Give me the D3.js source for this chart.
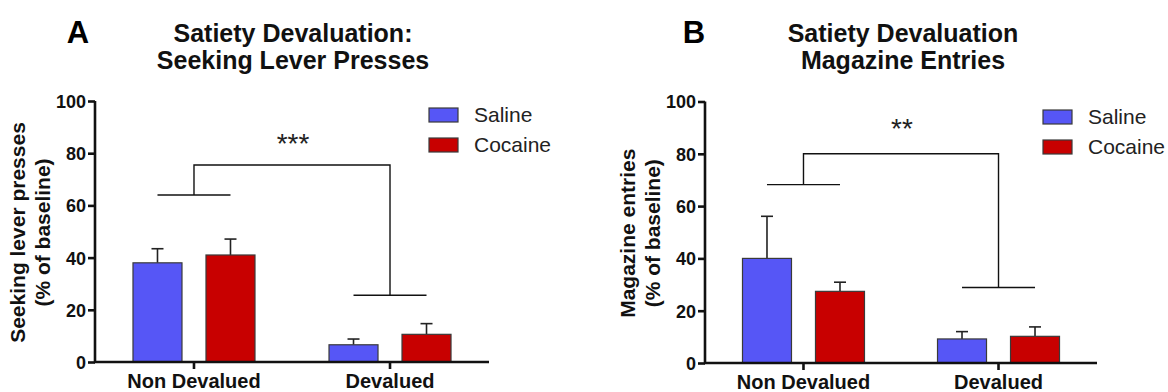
<!DOCTYPE html>
<html>
<head>
<meta charset="utf-8">
<script src="https://cdn.jsdelivr.net/npm/d3@7"></script>
<style>
  html, body { margin: 0; padding: 0; background: #fff; }
  svg { display: block; }
  text { font-family: "Liberation Sans", Arial, Helvetica, sans-serif; }
</style>
</head>
<body>
<svg id="fig" width="1168" height="392"></svg>
<script>
// Categories and groups
const groups = ["Non Devalued", "Devalued"];
const treatments = ["Saline", "Cocaine"];
const yTicks = [0, 20, 40, 60, 80, 100];

// Panel A: seeking lever presses (% of baseline), mean and SEM per group
const seekingSaline = [38.0, 6.6];
const seekingSalineSem = [5.4, 2.2];
const seekingCocaine = [41.0, 10.6];
const seekingCocaineSem = [6.1, 4.1];
// Significance bracket levels: [Non Devalued, Devalued, top]
const seekingBracket = [64.0, 25.6, 75.5];

// Panel B: magazine entries (% of baseline), mean and SEM per group
const magazineSaline = [40.0, 9.2];
const magazineSalineSem = [16.1, 2.8];
const magazineCocaine = [27.4, 10.2];
const magazineCocaineSem = [3.5, 3.6];
const magazineBracket = [68.2, 28.9, 80.0];

const colors = { Saline: "#5656f6", Cocaine: "#c80000" };

const panels = [
  {
    letter: "A", letterX: 78,
    title: ["Satiety Devaluation:", "Seeking Lever Presses"],
    yTitle: ["Seeking lever presses", "(% of baseline)"],
    left: 95, right: 489, y0: 362, y100: 101,
    saline: seekingSaline, salineSem: seekingSalineSem,
    cocaine: seekingCocaine, cocaineSem: seekingCocaineSem,
    bracket: seekingBracket, stars: "***", starGap: 12,
    legendX: 429, legendY: 108
  },
  {
    letter: "B", letterX: 694,
    title: ["Satiety Devaluation", "Magazine Entries"],
    yTitle: ["Magazine entries", "(% of baseline)"],
    left: 705, right: 1097, y0: 363, y100: 101.5,
    saline: magazineSaline, salineSem: magazineSalineSem,
    cocaine: magazineCocaine, cocaineSem: magazineCocaineSem,
    bracket: magazineBracket, stars: "**", starGap: 16,
    legendX: 1043, legendY: 110
  }
];

const svg = d3.select("#fig");

panels.forEach(p => {
  const g = svg.append("g");

  const x = d3.scaleBand().domain(groups).range([p.left, p.right])
    .paddingInner(0).paddingOuter(0.005);
  const half = x.bandwidth() / 2;
  const xSub = d3.scaleBand().domain(treatments)
    .range([half - 61, half + 61]).paddingInner(24 / 73).paddingOuter(0);
  const y = d3.scaleLinear().domain([0, 100]).range([p.y0, p.y100]);

  const rows = [];
  groups.forEach((grp, i) => {
    rows.push({ group: grp, t: "Saline", v: p.saline[i], e: p.salineSem[i] });
    rows.push({ group: grp, t: "Cocaine", v: p.cocaine[i], e: p.cocaineSem[i] });
  });
  const cx = d => x(d.group) + xSub(d.t) + xSub.bandwidth() / 2;

  // error bars (upper only)
  g.selectAll(".err").data(rows).join("g").attr("class", "err")
    .each(function (d) {
      const s = d3.select(this);
      s.append("line").attr("x1", cx(d)).attr("x2", cx(d))
        .attr("y1", y(d.v)).attr("y2", y(d.v + d.e))
        .attr("stroke", "#222").attr("stroke-width", 1.6);
      s.append("line").attr("x1", cx(d) - 6).attr("x2", cx(d) + 6)
        .attr("y1", y(d.v + d.e)).attr("y2", y(d.v + d.e))
        .attr("stroke", "#222").attr("stroke-width", 1.6);
    });

  // bars
  g.selectAll(".bar").data(rows).join("rect").attr("class", "bar")
    .attr("x", d => x(d.group) + xSub(d.t))
    .attr("width", xSub.bandwidth())
    .attr("y", d => y(d.v))
    .attr("height", d => y(0) - y(d.v))
    .attr("fill", d => colors[d.t])
    .attr("stroke", "#3a3a3a").attr("stroke-width", 1.2);

  // significance bracket
  const gc = grp => x(grp) + half;
  const sx = (grp, t) => x(grp) + xSub(t) + xSub.bandwidth() / 2;
  const br = g.append("g").attr("fill", "none").attr("stroke", "#111").attr("stroke-width", 1.4);
  groups.forEach((grp, i) => {
    br.append("line").attr("x1", sx(grp, "Saline")).attr("x2", sx(grp, "Cocaine"))
      .attr("y1", y(p.bracket[i])).attr("y2", y(p.bracket[i]));
  });
  br.append("path").attr("d", d3.line()([
    [gc(groups[0]), y(p.bracket[0])],
    [gc(groups[0]), y(p.bracket[2])],
    [gc(groups[1]), y(p.bracket[2])],
    [gc(groups[1]), y(p.bracket[1])]
  ]));
  g.append("text")
    .attr("x", (gc(groups[0]) + gc(groups[1])) / 2 + 1)
    .attr("y", y(p.bracket[2]) - p.starGap)
    .attr("text-anchor", "middle")
    .attr("font-size", 28).attr("fill", "#222")
    .text(p.stars);

  // axes
  const yAxis = g.append("g").attr("transform", `translate(${p.left},0)`)
    .call(d3.axisLeft(y).tickValues(yTicks).tickSize(7).tickSizeOuter(0).tickPadding(2));
  const xAxis = g.append("g").attr("transform", `translate(0,${p.y0})`)
    .call(d3.axisBottom(x).tickSize(7).tickSizeOuter(0));
  [yAxis, xAxis].forEach(a => {
    a.select(".domain").attr("stroke", "#111").attr("stroke-width", 2.6);
    a.selectAll(".tick line").attr("stroke", "#111").attr("stroke-width", 2.6);
    a.selectAll("text").attr("fill", "#111").attr("font-weight", "bold")
      .attr("font-family", "Liberation Sans, Arial, sans-serif");
  });
  yAxis.selectAll("text").attr("font-size", 18).attr("dy", "0.36em");
  xAxis.selectAll("text").attr("font-size", 20).attr("y", 26).attr("dy", 0);
  xAxis.select(".domain").attr("d", `M${p.left - 1},0H${p.right}`);
  yAxis.select(".domain").attr("d", `M0,${y(100)}V${y(0) + 1}`);

  // y-axis title
  const yt = g.append("text")
    .attr("transform", `translate(${p.left - 70},${(y(0) + y(100)) / 2 + 1}) rotate(-90)`)
    .attr("text-anchor", "middle").attr("font-weight", "bold")
    .attr("font-size", 21).attr("fill", "#111");
  yt.append("tspan").attr("x", 0).attr("y", 0).text(p.yTitle[0]);
  yt.append("tspan").attr("x", 0).attr("y", 25).text(p.yTitle[1]);

  // title
  const tcx = p.left + 198;
  g.append("text").attr("x", tcx).attr("y", 41.5).attr("text-anchor", "middle")
    .attr("font-weight", "bold").attr("font-size", 25).attr("fill", "#111")
    .text(p.title[0]);
  g.append("text").attr("x", tcx).attr("y", 68.5).attr("text-anchor", "middle")
    .attr("font-weight", "bold").attr("font-size", 25).attr("fill", "#111")
    .text(p.title[1]);

  // panel letter
  g.append("text").attr("x", p.letterX).attr("y", 43).attr("text-anchor", "middle")
    .attr("font-weight", "bold").attr("font-size", 31).attr("fill", "#000")
    .text(p.letter);

  // legend
  const lg = g.append("g").attr("transform", `translate(${p.legendX},${p.legendY})`);
  treatments.forEach((t, i) => {
    lg.append("rect").attr("x", 0).attr("y", i * 30).attr("width", 29).attr("height", 14)
      .attr("fill", colors[t]).attr("stroke", "#3a3a3a").attr("stroke-width", 1.2);
    lg.append("text").attr("x", 45).attr("y", i * 30 + 14).attr("font-size", 21)
      .attr("fill", "#222").text(t);
  });
});
</script>
</body>
</html>
